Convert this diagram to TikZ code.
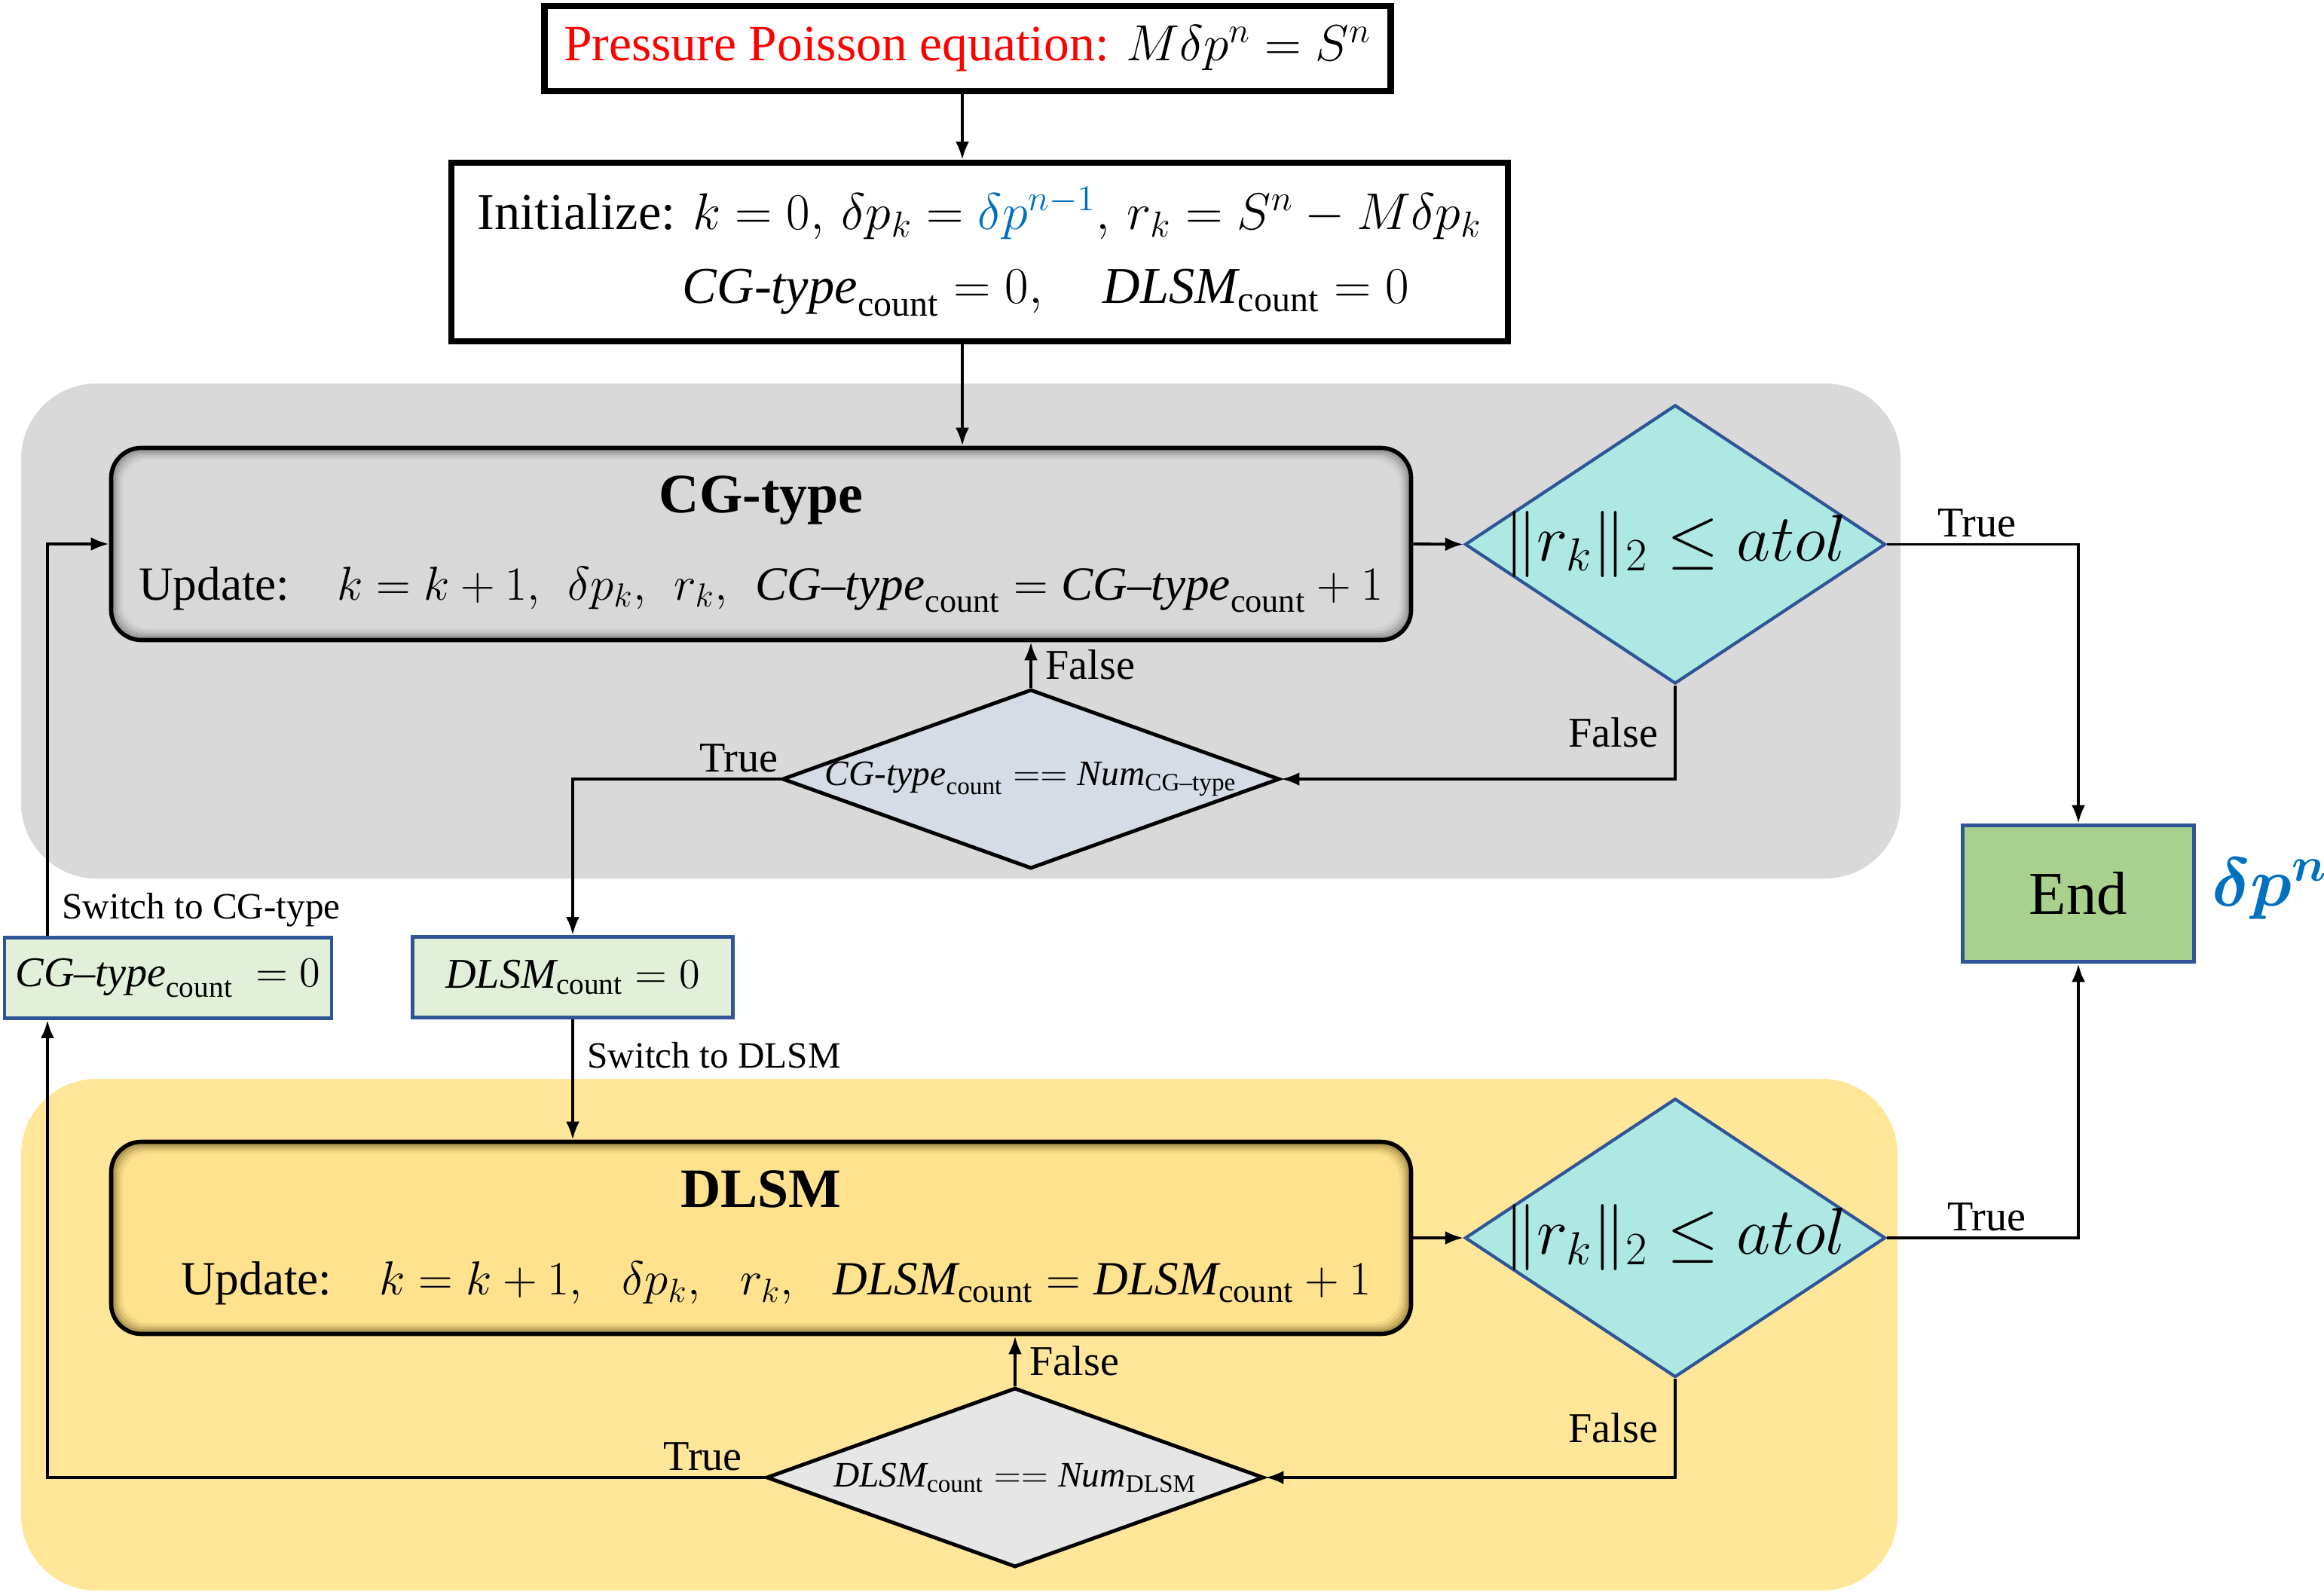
\RequirePackage{fix-cm}
\documentclass[tikz,border=0pt]{standalone}
\usepackage{xcolor}
\usepackage{amsmath}
\usepackage{bm}
\usepackage{fontspec}
\setmainfont{Liberation Serif}
\usepackage{tikz}
\usetikzlibrary{shapes,arrows.meta}

\definecolor{pred}{HTML}{FF0000}
\definecolor{pblue}{HTML}{0070C0}
\definecolor{zonegray}{HTML}{D9D9D9}
\definecolor{zoneyellow}{HTML}{FFE699}
\definecolor{testfill}{HTML}{AEE8E3}
\definecolor{edgeblue}{HTML}{2F5597}
\definecolor{endgreen}{HTML}{A9D18E}
\definecolor{cntgreen}{HTML}{E2F0D9}
\definecolor{chkblue}{HTML}{D6DCE5}
\definecolor{chkgray}{HTML}{E7E6E6}
\definecolor{cgin}{HTML}{D8D8D8}
\definecolor{cgout}{HTML}{8C8C8C}
\definecolor{dlin}{HTML}{FFE28E}
\definecolor{dlout}{HTML}{A08845}

\newcommand{\cgcount}{\textit{CG-type}_{\mathrm{count}}}
\newcommand{\dlcount}{\textit{DLSM}_{\mathrm{count}}}

\tikzset{
  eqbox/.style={rectangle,draw,line width=2.3pt,fill=white,inner sep=0pt},
  stagebox/.style 2 args={rectangle,draw,line width=1.6pt,rounded corners=0.4cm,
    minimum width=17.25cm,minimum height=2.55cm,fill=#2,align=center,
    path picture={
      \foreach \d/\m in {0.03/20,0.06/45,0.09/70,0.12/88,0.15/100}
        \fill[#1!\m!#2,rounded corners=0.35cm]
          ([shift={(\d,\d)}]path picture bounding box.south west) rectangle
          ([shift={(-\d,-\d)}]path picture bounding box.north east);
    }},
  test/.style={diamond,draw=edgeblue,line width=1.2pt,fill=testfill,inner sep=0pt,
    minimum width=5.58cm,minimum height=3.7cm,font=\fontsize{25}{30}\selectfont},
  check/.style={diamond,draw,line width=1.4pt,fill=#1,inner sep=0pt,
    minimum width=6.6cm,minimum height=2.38cm,font=\fontsize{13.5}{16}\selectfont},
  counter/.style={rectangle,draw=edgeblue,line width=1.4pt,fill=cntgreen,inner sep=0pt,
    minimum height=1.07cm,font=\fontsize{16}{19}\selectfont},
  lbl/.style={font=\fontsize{16}{19}\selectfont,inner sep=2pt},
  tag/.style={font=\fontsize{14}{17}\selectfont,inner sep=2pt}
}

\begin{document}
\begin{tikzpicture}[>={Latex[length=2.4mm,width=1.8mm]},line width=1.1pt,
  font=\fontsize{18}{22}\selectfont]

\useasboundingbox (0,0) rectangle (30.84,-21.16);

% the two solver zones
\fill[zonegray,rounded corners=1cm] (0.28,-5.09) rectangle (25.22,-11.66);
\fill[zoneyellow,rounded corners=1cm] (0.28,-14.32) rectangle (25.18,-21.11);

\coordinate (axis) at (12.77,-1);
\coordinate (rail) at (0.63,-13);

\node [eqbox,minimum width=11.23cm,minimum height=1.13cm,font=\fontsize{19.2}{23}\selectfont] (ppe) at (12.84,-0.645)
  {\textcolor{pred}{Pressure Poisson equation:} $M\delta p^n=S^n$};
\node [eqbox,minimum width=14.02cm,minimum height=2.37cm,align=left,font=\fontsize{19.5}{23}\selectfont] (init) at (13.0,-3.345)
  {Initialize: $k=0,\,\delta p_k=\textcolor{pblue}{\delta p^{n-1}},\,r_k=S^n-M\delta p_k$\\[5pt]
   \hspace*{2.72cm}$\cgcount=0,\quad\dlcount=0$};

\node [stagebox={cgin}{cgout}] (cg) at (10.1,-7.22)
  {{\fontsize{21}{25}\selectfont\bfseries CG-type}\\[11pt]
   Update:\quad $k=k+1,\ \,\delta p_k,\ \,r_k,\ \,\textit{CG--type}_{\mathrm{count}}=\textit{CG--type}_{\mathrm{count}}+1$};
\node [test] (d1) at (22.23,-7.225) {\makebox[0pt]{$\|r_k\|_2\le atol$}};
\node [check=chkblue] (d2) at (13.68,-10.34)
  {\makebox[0pt]{$\cgcount==\mathit{Num}_{\text{CG--type}}$}};

\node [counter,minimum width=4.34cm] (cc) at (2.23,-12.98) {$\textit{CG--type}_{\mathrm{count}}\ =0$};
\node [counter,minimum width=4.25cm] (dc) at (7.6,-12.97) {$\dlcount=0$};

\node [rectangle,draw=edgeblue,line width=1.6pt,fill=endgreen,minimum width=3.07cm,
  minimum height=1.81cm,font=\fontsize{23}{28}\selectfont] (end) at (27.58,-11.86) {End};
\node [text=pblue,font=\fontsize{26}{31}\selectfont] (out) at (30.12,-11.8) {$\bm{\delta p^n}$};

\node [stagebox={dlin}{dlout}] (dl) at (10.1,-16.43)
  {{\fontsize{21}{25}\selectfont\bfseries DLSM}\\[11pt]
   \hspace*{0.4cm}Update:\quad $k=k+1,\ \ \,\delta p_k,\ \ \,r_k,\ \ \,\dlcount=\dlcount+1$};
\node [test] (d3) at (22.23,-16.43) {\makebox[0pt]{$\|r_k\|_2\le atol$}};
\node [check=chkgray] (d4) at (13.47,-19.61)
  {\makebox[0pt]{$\dlcount==\mathit{Num}_{\mathrm{DLSM}}$}};

\draw[->] (ppe.south -| axis) -- (init.north -| axis);
\draw[->] (init.south -| axis) -- (cg.north -| axis);
\draw[->] (cg.east) -- (d1.west);
\draw[->] (d1.east) -| node[lbl,pos=0.235,above]{True} (end.north);
\draw[->] (d1.south) |- node[lbl,pos=0.25,left=4pt]{False} (d2.east);
\draw[->] (d2.north) -- node[lbl,right=3pt]{False} (d2.north |- cg.south);
\draw[->] (d2.west) -| node[lbl,pos=0.1,above]{True} (dc.north);
\draw[->] (dc.south) -- node[tag,pos=0.3,right=3pt]{Switch to DLSM} (dc.south |- dl.north);
\draw[->] (rail |- cc.north) |- node[tag,pos=0.033,right=3pt]{Switch to CG-type} (cg.west);

\draw[->] (dl.east) -- (d3.west);
\draw[->] (d3.east) -| node[lbl,pos=0.26,above]{True} (end.south);
\draw[->] (d3.south) |- node[lbl,pos=0.25,left=4pt]{False} (d4.east);
\draw[->] (d4.north) -- node[lbl,right=3pt]{False} (d4.north |- dl.south);
\draw[->] (d4.west) -| node[lbl,pos=0.043,above]{True} (rail |- cc.south);

\end{tikzpicture}
\end{document}
